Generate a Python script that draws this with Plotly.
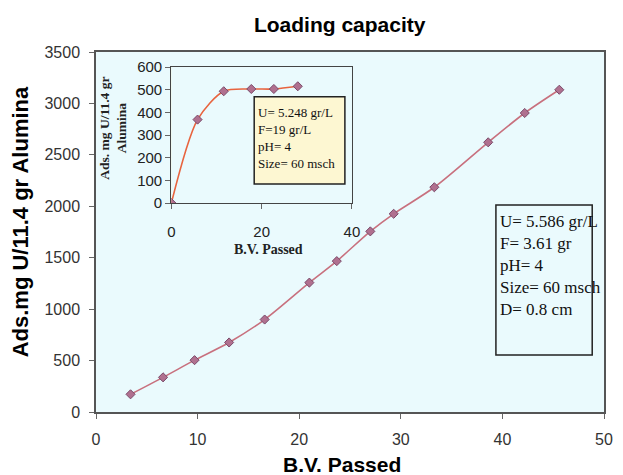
import plotly.graph_objects as go

# Main column run: bed volumes passed vs. adsorbed uranium (mg U / 11.4 g alumina)
main_bv = [3.4, 6.6, 9.7, 13.1, 16.6, 21.0, 23.7, 27.0, 29.3, 33.3, 38.6, 42.2, 45.6]
main_ads = [172, 337, 504, 676, 899, 1258, 1467, 1756, 1927, 2185, 2622, 2907, 3133]

# Inset run at the higher feed concentration
inset_bv = [0, 5.8, 11.6, 17.7, 22.7, 28.0]
inset_ads = [0, 368, 493, 503, 503, 515]

main_xticks = [0, 10, 20, 30, 40, 50]
main_yticks = [0, 500, 1000, 1500, 2000, 2500, 3000, 3500]
inset_xticks = [0, 20, 40]
inset_yticks = [0, 100, 200, 300, 400, 500, 600]

main_conditions = ["U= 5.586 gr/L", "F= 3.61 gr", "pH= 4", "Size= 60 msch", "D= 0.8 cm"]
inset_conditions = ["U= 5.248 gr/L", "F=19 gr/L", "pH= 4", "Size= 60 msch"]

SANS = "Liberation Sans, Arial, sans-serif"
SERIF = "Liberation Serif, Times New Roman, serif"
PLOT_BG = "#eafafd"
INSET_BG = "#fdf7d2"

# Pixel geometry of the main plotting area (used to place free text)
L, R, T, B = 96, 613, 52, 412


def px(xp):
    return (xp - L) / (R - L)


def py(yp):
    return (B - yp) / (B - T)


fig = go.Figure()

fig.add_trace(go.Scatter(
    x=main_bv, y=main_ads, mode="lines+markers",
    line=dict(color="#c8707e", width=1.6, shape="spline", smoothing=0.8),
    marker=dict(symbol="diamond", size=7, color="#b0708f",
                line=dict(color="#7a4a6a", width=1)),
    xaxis="x", yaxis="y", showlegend=False,
))

fig.add_trace(go.Scatter(
    x=inset_bv, y=inset_ads, mode="lines+markers",
    line=dict(color="#e8643f", width=1.6, shape="spline", smoothing=0.8),
    marker=dict(symbol="diamond", size=7, color="#b0708f",
                line=dict(color="#7a4a6a", width=1)),
    xaxis="x2", yaxis="y2", showlegend=False,
))

axis_common = dict(
    showgrid=False, zeroline=False, showline=True, mirror=True,
    ticks="outside", ticklen=5,
)

fig.update_layout(
    width=623, height=475, autosize=False,
    margin=dict(l=L, r=623 - R, t=T, b=475 - B),
    paper_bgcolor="white", plot_bgcolor=PLOT_BG,
    xaxis=dict(range=[0, 50], tickvals=main_xticks, domain=[0, 1],
               linecolor="#555", linewidth=1.5, tickcolor="#666",
               tickfont=dict(family=SANS, size=16, color="#333"),
               ticklabelstandoff=7, **axis_common),
    yaxis=dict(range=[0, 3500], tickvals=main_yticks, domain=[0, 1],
               linecolor="#555", linewidth=1.5, tickcolor="#666",
               tickfont=dict(family=SANS, size=16, color="#333"),
               ticklabelstandoff=6, **axis_common),
    xaxis2=dict(range=[0, 40], tickvals=inset_xticks,
                domain=[px(172.7), px(356.5)],
                anchor="y2", linecolor="#444", linewidth=1.3, tickcolor="#666",
                tickfont=dict(family=SANS, size=15, color="#222"),
                ticklabelstandoff=10, **axis_common),
    yaxis2=dict(range=[0, 600], tickvals=inset_yticks,
                domain=[py(203), py(67)],
                anchor="x2", linecolor="#444", linewidth=1.3, tickcolor="#666",
                tickfont=dict(family=SANS, size=15, color="#222"),
                **axis_common),
    title=dict(text="<b>Loading capacity</b>", x=px(344), xref="paper",
               xanchor="center", y=1 - 25 / 475, yref="container",
               yanchor="middle", font=dict(family=SANS, size=21, color="black")),
)

# Inset panel background and condition boxes
fig.add_shape(type="rect", xref="x2 domain", yref="y2 domain",
              x0=0, x1=1, y0=0, y1=1, fillcolor=INSET_BG,
              line=dict(width=0), layer="below")
fig.add_shape(type="rect", xref="paper", yref="paper",
              x0=px(257), x1=px(349.3), y0=py(184), y1=py(96.7),
              fillcolor=INSET_BG, line=dict(color="#222", width=1.5))
fig.add_shape(type="rect", xref="paper", yref="paper",
              x0=px(503), x1=px(601), y0=py(355), y1=py(205),
              fillcolor="rgba(0,0,0,0)", line=dict(color="#222", width=1.5))

annotations = [
    dict(text="<b>B.V. Passed</b>", x=px(346), y=py(464), xref="paper",
         yref="paper", xanchor="center", yanchor="middle", showarrow=False,
         font=dict(family=SANS, size=21, color="black")),
    dict(text="<b>Ads.mg U/11.4 gr Alumina</b>", x=px(19), y=py(222),
         xref="paper", yref="paper", textangle=-90, xanchor="center",
         yanchor="middle", showarrow=False,
         font=dict(family=SANS, size=22, color="black")),
    dict(text="<b>B.V. Passed</b>", x=px(271.6), y=py(249),
         xref="paper", yref="paper", xanchor="center", yanchor="middle",
         showarrow=False, font=dict(family=SERIF, size=14, color="#222")),
    dict(text="<b>Ads. mg U/11.4 gr<br>Alumina</b>", x=px(113), y=py(128),
         xref="paper", yref="paper", textangle=-90, xanchor="center",
         yanchor="middle", showarrow=False,
         font=dict(family=SERIF, size=13.5, color="#222")),
    dict(text="<br>".join(inset_conditions), x=px(259), y=py(103),
         xref="paper", yref="paper", xanchor="left", yanchor="top",
         align="left", showarrow=False,
         font=dict(family=SERIF, size=13, color="#111")),
    dict(text="<br>".join(main_conditions), x=px(505), y=py(210),
         xref="paper", yref="paper", xanchor="left", yanchor="top",
         align="left", showarrow=False,
         font=dict(family=SERIF, size=17, color="#111")),
]
fig.update_layout(annotations=annotations)

fig.write_html("out.html")
